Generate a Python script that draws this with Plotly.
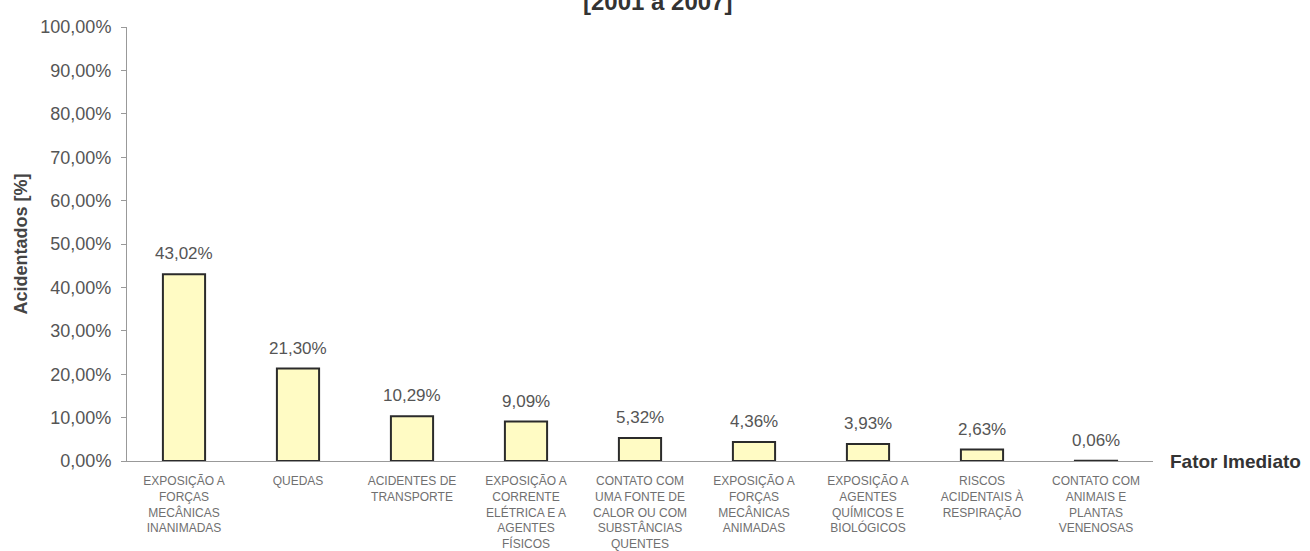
import plotly.graph_objects as go

categories = [
    "EXPOSIÇÃO A<br>FORÇAS<br>MECÂNICAS<br>INANIMADAS",
    "QUEDAS",
    "ACIDENTES DE<br>TRANSPORTE",
    "EXPOSIÇÃO A<br>CORRENTE<br>ELÉTRICA E A<br>AGENTES<br>FÍSICOS",
    "CONTATO COM<br>UMA FONTE DE<br>CALOR OU COM<br>SUBSTÂNCIAS<br>QUENTES",
    "EXPOSIÇÃO A<br>FORÇAS<br>MECÂNICAS<br>ANIMADAS",
    "EXPOSIÇÃO A<br>AGENTES<br>QUÍMICOS E<br>BIOLÓGICOS",
    "RISCOS<br>ACIDENTAIS À<br>RESPIRAÇÃO",
    "CONTATO COM<br>ANIMAIS E<br>PLANTAS<br>VENENOSAS",
]
values = [43.02, 21.30, 10.29, 9.09, 5.32, 4.36, 3.93, 2.63, 0.06]
y_ticks = [0, 10, 20, 30, 40, 50, 60, 70, 80, 90, 100]
y_tick_text = [f"{t:.2f}".replace(".", ",") + "%" for t in y_ticks]

FONT = "Liberation Sans"

fig = go.Figure()
fig.add_trace(go.Bar(
    x=categories, y=values, width=0.37,
    marker=dict(color="#FFFBC4", line=dict(color="#2b2b2b", width=2)),
))

for c, v in zip(categories, values):
    fig.add_annotation(x=c, y=v, xref="x", yref="y", yanchor="bottom",
                       text=f"{v:.2f}".replace(".", ",") + "%", showarrow=False,
                       yshift=9, font=dict(family=FONT, size=17, color="#555555"))

fig.add_annotation(xref="paper", yref="y", x=1.0146, y=0, xanchor="left", yanchor="middle",
                   text="<b>Fator Imediato</b>", showarrow=False,
                   font=dict(family=FONT, size=19, color="#333333"))
fig.add_annotation(xref="paper", yref="paper", x=0.517, y=1.022, xanchor="center", yanchor="bottom",
                   text="<b>[2001 a 2007]</b>", showarrow=False,
                   font=dict(family=FONT, size=24, color="#333333"))

fig.update_layout(
    width=1310, height=551,
    margin=dict(l=127, r=157, t=27, b=90),
    plot_bgcolor="white", paper_bgcolor="white",
    showlegend=False,
    bargap=0.6,
    xaxis=dict(showline=True, linecolor="#999999", linewidth=1, ticks="", showgrid=False,
               tickfont=dict(family=FONT, size=12, color="#707070"),
               tickangle=0, automargin=False, ticklabelstandoff=9),
    yaxis=dict(range=[0, 100], tickmode="array", tickvals=y_ticks, ticktext=y_tick_text,
               showline=True, linecolor="#999999", linewidth=1, ticks="outside", ticklen=5,
               tickcolor="#999999", showgrid=False, zeroline=False,
               tickfont=dict(family=FONT, size=18, color="#555555"),
               title=dict(text="<b>Acidentados [%]</b>", standoff=8,
                          font=dict(family=FONT, size=18, color="#444444")),
               automargin=False, ticklabelstandoff=6),
)

fig.write_html("out.html")
